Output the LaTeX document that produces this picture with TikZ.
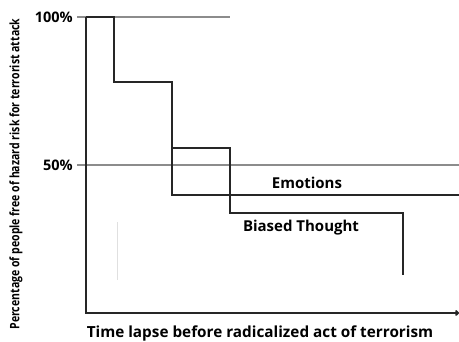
\documentclass[tikz,border=0pt]{standalone}
\usepackage{fontspec}
\setmainfont{Open Sans}
\usetikzlibrary{arrows.meta}
\tikzset{
  curve/.style={draw=black!85, line width=1.8pt},
  guide/.style={draw=black!45, line width=1.3pt},
  faint/.style={draw=black!12, line width=1pt},
  axis/.style={draw=black!85, line width=1.8pt},
  lbl/.style={font=\bfseries\fontsize{15}{17}\selectfont, inner sep=0pt},
  tick/.style={font=\bfseries\fontsize{14.5}{16}\selectfont, inner sep=0pt, anchor=east}
}
\begin{document}
\begin{tikzpicture}[x=1pt,y=-1pt]
\useasboundingbox (0,0) rectangle (459,342);
% coordinates
\coordinate (o) at (86,313);
\coordinate (top) at (86,17);
\coordinate (xend) at (459,313);
% guides
\draw[guide] (114,17) -- (230,17);
\draw[guide] (77,165) -- (459,165);
\draw[guide] (77,17) -- (86,17);
\draw[faint] (117,222) -- (117,280);
% axes
\draw[axis, -{To[length=4pt,width=6pt]}] (top) -- (o) -- (xend);
% step curve 1 (Emotions)
\draw[curve] (top) -- (114,17) -- (114,82) -- (172,82) -- (172,195) -- (459,195);
% step curve 2 (Biased Thought)
\draw[curve] (172,148) -- (230,148) -- (230,213) -- (403,213) -- (403,275);
% labels
\node[tick] (p100) at (73,17) {100\%};
\node[tick] (p50) at (73,165) {50\%};
\node[lbl] (emo) at (307,183) {Emotions};
\node[lbl] (bias) at (301,228) {Biased Thought};
\node[font=\bfseries\fontsize{15.3}{17}\selectfont, inner sep=0pt] (xl) at (260,333) {Time lapse before radicalized act of terrorism};
\node[font=\bfseries\fontsize{13}{15}\selectfont, inner sep=0pt, rotate=90] (yl) at (16,174) {\scalebox{0.81}[1]{Percentage of people free of hazard risk for terrorist attack}};
\end{tikzpicture}
\end{document}
